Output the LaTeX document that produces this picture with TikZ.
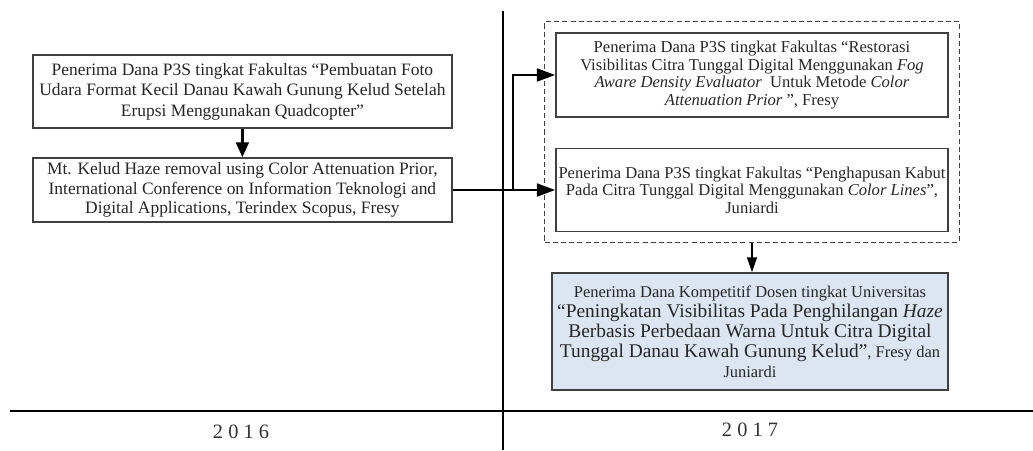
\documentclass[tikz,border=0pt]{standalone}
\usepackage{fontspec}
\setmainfont{Liberation Serif}
\usepackage{tikz}
\usetikzlibrary{arrows.meta,fit,backgrounds}
\definecolor{boxfill}{RGB}{220,230,242}
\definecolor{boxline}{RGB}{64,64,64}

\begin{document}
\begin{tikzpicture}
    	\tikzstyle{place}=[draw=boxline, line width=1.1pt, align=center, inner sep=0pt, text=black!85]
    	\tikzstyle{link}=[line width=2pt, -{Triangle[length=13pt,width=9pt]}]
    	\useasboundingbox (0,0) rectangle (25.825,-11.25);

    	% Time axis
    	\coordinate (axis_top) at (12.575,-0.275);
    	\coordinate (axis_bottom) at (12.575,-11.25);
    	\coordinate (base_left) at (0.25,-10.275);
    	\coordinate (base_right) at (25.825,-10.275);
    	\draw[line width=2pt] (axis_top) -- (axis_bottom);
    	\draw[line width=1.4pt] (base_left) -- (base_right);

    	% 2016
    	\node[minimum width=10.475cm, minimum height=1.825cm, font=\fontsize{12.4}{14.6}\selectfont] at (6.06,-2.29) [place] (left_1)
    		{Penerima Dana P3S tingkat Fakultas “Pembuatan Foto\\Udara Format Kecil Danau Kawah Gunung Kelud Setelah\\Erupsi Menggunakan Quadcopter”};
    	\node[minimum width=10.475cm, minimum height=1.6cm, font=\fontsize{12.4}{14}\selectfont] at (6.06,-4.75) [place] (left_2)
    		{Mt. Kelud Haze removal using Color Attenuation Prior,\\International Conference on Information Teknologi and\\Digital Applications, Terindex Scopus, Fresy};

    	% 2017
    	\node[minimum width=9.8cm, minimum height=2.1cm, font=\fontsize{11.8}{12.4}\selectfont] at (18.8,-1.875) [place] (right_1)
    		{Penerima Dana P3S tingkat Fakultas “Restorasi\\Visibilitas Citra Tunggal Digital Menggunakan \textit{Fog}\\\textit{Aware Density Evaluator}\ \ Untuk Metode \textit{Color}\\\textit{Attenuation Prior} ”, Fresy};
    	\node[minimum width=9.8cm, minimum height=2.075cm, font=\fontsize{11.8}{12.4}\selectfont] at (18.8,-4.75) [place] (right_2)
    		{Penerima Dana P3S tingkat Fakultas “Penghapusan Kabut\\Pada Citra Tunggal Digital Menggunakan \textit{Color Lines}”,\\Juniardi};
    	\node[draw=boxline, line width=0.8pt, dash pattern=on 3.6pt off 2.2pt, inner sep=0.2625cm, fit=(right_1)(right_2)] (group_1) {};
    	\node[fill=boxfill, minimum width=9.9cm, minimum height=2.925cm, font=\fontsize{11.7}{14.2}\selectfont] at (18.75,-8.2875) [place] (right_3)
    		{Penerima Dana Kompetitif Dosen tingkat Universitas\\{\fontsize{13.8}{14.2}\selectfont “Peningkatan Visibilitas Pada Penghilangan \textit{Haze}}\\{\fontsize{13.8}{14.2}\selectfont Berbasis Perbedaan Warna Untuk Citra Digital}\\{\fontsize{13.8}{14.2}\selectfont Tunggal Danau Kawah Gunung Kelud”}, Fresy dan\\Juniardi};

    	% Connections
    	\coordinate (split) at (12.825,-4.75);
    	\draw[line width=1.8pt, -{Triangle[length=10.5pt,width=9pt]}] (left_1) to (left_2);
    	\draw[link] (left_2.east) to (right_2.west);
    	\draw[link] (split) |- (right_1.west);
    	\draw[line width=1.1pt, -{Triangle[length=10.5pt,width=7pt]}] (group_1.south) to (group_1.south |- right_3.north);

    	% Years
    	\node[font=\fontsize{14.5}{16}\selectfont, text=black!80] at (6.025,-10.8) (year_1) {2 0 1 6};
    	\node[font=\fontsize{14.5}{16}\selectfont, text=black!80] at (18.75,-10.75) (year_2) {2 0 1 7};
\end{tikzpicture}
\end{document}
